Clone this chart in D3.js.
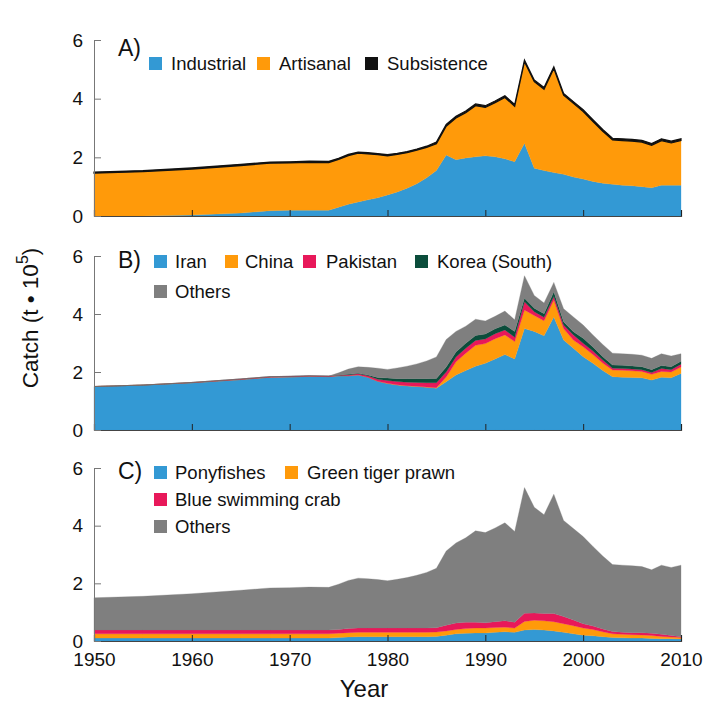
<!DOCTYPE html>
<html>
<head>
<meta charset="utf-8">
<script src="https://cdn.jsdelivr.net/npm/d3@7"></script>
<style>
  body { margin: 0; background: #fff; }
  text { font-family: "Liberation Sans", Arial, sans-serif; }
</style>
</head>
<body>
<svg id="chart"></svg>
<script>
// years (annual from 1975 on)
const years = [1950, 1955, 1960, 1965, 1968, 1970, 1972, 1974,
  1975, 1976, 1977, 1978, 1979, 1980, 1981, 1982, 1983, 1984, 1985, 1986, 1987, 1988, 1989,
  1990, 1991, 1992, 1993, 1994, 1995, 1996, 1997, 1998, 1999, 2000, 2001, 2002, 2003, 2004,
  2005, 2006, 2007, 2008, 2009, 2010];

// panel A: sector (t * 10^5)
const industrial = [0, 0, 0.03, 0.10, 0.18, 0.20, 0.20, 0.20,
  0.30, 0.40, 0.48, 0.55, 0.62, 0.72, 0.82, 0.95, 1.10, 1.30, 1.55, 2.08, 1.92, 1.98, 2.02,
  2.05, 2.02, 1.95, 1.85, 2.48, 1.63, 1.55, 1.48, 1.42, 1.33, 1.26, 1.18, 1.12, 1.08, 1.05,
  1.03, 1.00, 0.96, 1.05, 1.05, 1.05];
const artisanal = [1.46, 1.51, 1.57, 1.62, 1.62, 1.61, 1.63, 1.62,
  1.63, 1.66, 1.66, 1.57, 1.47, 1.33, 1.28, 1.21, 1.14, 1.04, 0.91, 0.98, 1.42, 1.54, 1.74,
  1.65, 1.84, 2.09, 1.89, 2.78, 2.95, 2.77, 3.55, 2.70, 2.51, 2.30, 2.04, 1.77, 1.51, 1.52,
  1.52, 1.52, 1.45, 1.52, 1.44, 1.52];
const subsistence = [0.04, 0.04, 0.04, 0.04, 0.04, 0.04, 0.04, 0.04,
  0.04, 0.04, 0.04, 0.04, 0.04, 0.04, 0.04, 0.04, 0.04, 0.04, 0.06, 0.06, 0.06, 0.06, 0.06,
  0.06, 0.06, 0.06, 0.06, 0.06, 0.06, 0.06, 0.06, 0.06, 0.06, 0.06, 0.06, 0.06, 0.06, 0.06,
  0.06, 0.06, 0.06, 0.06, 0.06, 0.06];

// panel B: fishing country
const iran = [1.50, 1.55, 1.63, 1.74, 1.82, 1.83, 1.85, 1.84,
  1.87, 1.87, 1.90, 1.82, 1.68, 1.60, 1.55, 1.52, 1.50, 1.47, 1.44, 1.66, 1.90, 2.05, 2.20,
  2.30, 2.45, 2.60, 2.45, 3.50, 3.40, 3.25, 3.90, 3.10, 2.82, 2.53, 2.30, 2.05, 1.84, 1.82,
  1.81, 1.80, 1.72, 1.82, 1.80, 1.95];
const china = [0, 0, 0, 0, 0, 0, 0, 0,
  0, 0, 0, 0, 0, 0.01, 0.01, 0.01, 0.01, 0.01, 0.02, 0.17, 0.45, 0.60, 0.72,
  0.68, 0.70, 0.68, 0.60, 0.64, 0.55, 0.52, 0.58, 0.40, 0.28, 0.34, 0.30, 0.26, 0.23, 0.24,
  0.23, 0.22, 0.20, 0.20, 0.20, 0.22];
const pakistan = [0, 0, 0.01, 0.02, 0.02, 0.02, 0.02, 0.02,
  0.02, 0.03, 0.04, 0.05, 0.07, 0.10, 0.11, 0.12, 0.13, 0.15, 0.17, 0.17, 0.17, 0.17, 0.17,
  0.16, 0.17, 0.17, 0.15, 0.28, 0.13, 0.12, 0.12, 0.12, 0.18, 0.12, 0.12, 0.10, 0.06, 0.06,
  0.06, 0.06, 0.06, 0.10, 0.08, 0.10];
const korea = [0, 0, 0, 0, 0, 0, 0, 0,
  0, 0.02, 0.02, 0.03, 0.06, 0.08, 0.10, 0.12, 0.13, 0.14, 0.15, 0.17, 0.17, 0.17, 0.17,
  0.17, 0.17, 0.17, 0.20, 0.12, 0.12, 0.12, 0.17, 0.11, 0.11, 0.17, 0.14, 0.12, 0.11, 0.11,
  0.11, 0.10, 0.10, 0.10, 0.10, 0.10];
const othersB = [0, 0, 0, 0, 0, 0, 0, 0,
  0.08, 0.18, 0.22, 0.26, 0.32, 0.30, 0.37, 0.43, 0.51, 0.61, 0.74, 0.95, 0.71, 0.59, 0.56,
  0.45, 0.43, 0.48, 0.40, 0.78, 0.44, 0.37, 0.32, 0.45, 0.51, 0.46, 0.42, 0.42, 0.41, 0.40,
  0.40, 0.40, 0.39, 0.41, 0.37, 0.26];

// panel C: taxon
const ponyfishes = [0.10, 0.10, 0.10, 0.10, 0.10, 0.10, 0.10, 0.10,
  0.12, 0.14, 0.15, 0.15, 0.15, 0.15, 0.15, 0.15, 0.15, 0.15, 0.16, 0.20, 0.25, 0.27, 0.28,
  0.28, 0.30, 0.32, 0.30, 0.38, 0.40, 0.38, 0.35, 0.30, 0.25, 0.20, 0.18, 0.15, 0.12, 0.11,
  0.10, 0.10, 0.09, 0.08, 0.08, 0.07];
const tigerPrawn = [0.15, 0.15, 0.15, 0.15, 0.15, 0.15, 0.15, 0.15,
  0.15, 0.15, 0.15, 0.15, 0.15, 0.15, 0.15, 0.15, 0.15, 0.15, 0.15, 0.15, 0.15, 0.16, 0.17,
  0.17, 0.17, 0.16, 0.15, 0.30, 0.32, 0.32, 0.32, 0.30, 0.28, 0.25, 0.22, 0.17, 0.13, 0.12,
  0.12, 0.11, 0.10, 0.08, 0.06, 0.05];
const swimmingCrab = [0.13, 0.13, 0.13, 0.13, 0.13, 0.13, 0.13, 0.13,
  0.13, 0.14, 0.15, 0.15, 0.15, 0.15, 0.15, 0.15, 0.15, 0.15, 0.15, 0.20, 0.22, 0.22, 0.20,
  0.18, 0.20, 0.22, 0.20, 0.28, 0.25, 0.25, 0.28, 0.25, 0.20, 0.15, 0.12, 0.10, 0.08, 0.07,
  0.07, 0.08, 0.08, 0.07, 0.05, 0.03];
const othersC = [1.12, 1.17, 1.26, 1.38, 1.46, 1.47, 1.49, 1.48,
  1.57, 1.67, 1.73, 1.71, 1.68, 1.64, 1.69, 1.75, 1.83, 1.93, 2.06, 2.57, 2.78, 2.93, 3.17,
  3.13, 3.25, 3.40, 3.15, 4.36, 3.67, 3.43, 4.14, 3.33, 3.17, 3.02, 2.76, 2.53, 2.32, 2.33,
  2.32, 2.29, 2.20, 2.40, 2.36, 2.48];

const yTicks = [0, 2, 4, 6];
const xTicks = [1950, 1960, 1970, 1980, 1990, 2000, 2010];

const width = 706, height = 701;
const marginLeft = 94, marginRight = 25;

const svg = d3.select("#chart")
    .attr("width", width)
    .attr("height", height)
    .attr("viewBox", [0, 0, width, height]);

const x = d3.scaleLinear([1950, 2010], [marginLeft, width - marginRight]);

const panels = [
  {label: "A)", bottom: 216, top: 40,
   names: ["Industrial", "Artisanal", "Subsistence"],
   series: [industrial, artisanal, subsistence],
   colors: ["#3399d4", "#ff9a0a", "#111111"],
   // legend slots: [square x, text x, baseline]
   slots: [[149, 171, 70], [257, 279, 70], [365, 387, 70]],
   labelY: 56},
  {label: "B)", bottom: 430, top: 256,
   names: ["Iran", "China", "Pakistan", "Korea (South)", "Others"],
   series: [iran, china, pakistan, korea, othersB],
   colors: ["#3399d4", "#ff9a0a", "#e8185a", "#0b4d3b", "#7f7f7f"],
   slots: [[154, 175, 268], [225, 245, 268], [303, 326, 268], [415, 437, 268], [154, 175, 298]],
   labelY: 268},
  {label: "C)", bottom: 641, top: 468,
   names: ["Ponyfishes", "Green tiger prawn", "Blue swimming crab", "Others"],
   series: [ponyfishes, tigerPrawn, swimmingCrab, othersC],
   colors: ["#3399d4", "#ff9a0a", "#e8185a", "#7f7f7f"],
   slots: [[154, 175, 479], [285, 307, 479], [154, 175, 506], [154, 175, 533]],
   labelY: 479}
];

panels.forEach((p, pi) => {
  const y = d3.scaleLinear([0, 6], [p.bottom, p.top]);
  const rows = years.map((yr, i) => {
    const r = {year: yr};
    p.names.forEach((n, k) => r[n] = p.series[k][i]);
    return r;
  });
  const stacked = d3.stack().keys(p.names)(rows);
  const area = d3.area()
      .x(d => x(d.data.year))
      .y0(d => y(d[0]))
      .y1(d => y(d[1]));

  const g = svg.append("g");
  g.selectAll("path")
    .data(stacked)
    .join("path")
      .attr("fill", (d, k) => p.colors[k])
      .attr("stroke", (d, k) => p.colors[k])
      .attr("stroke-width", (d, k) => p.names[k] === "Subsistence" ? 1.2 : 0.3)
      .attr("d", area);

  // x axis along the bottom of each panel, ticks pointing up
  svg.append("g")
      .attr("transform", `translate(0,${p.bottom})`)
      .call(d3.axisBottom(x).tickValues(xTicks).tickSize(-6).tickPadding(12)
        .tickFormat(pi === 2 ? d3.format("d") : ""))
      .call(g => g.select(".domain").attr("stroke", "#444").attr("stroke-width", 1.2))
      .call(g => g.selectAll(".tick line").attr("stroke", "#222"))
      .call(g => g.selectAll(".tick text")
          .attr("font-size", 19).attr("fill", "#111")
          .style("font-family", "'Liberation Sans', Arial, sans-serif"));

  // y axis, ticks pointing right
  svg.append("g")
      .attr("transform", `translate(${marginLeft},0)`)
      .call(d3.axisLeft(y).tickValues(yTicks).tickFormat(d3.format("d"))
        .tickSizeInner(-7).tickSizeOuter(0).tickPadding(11))
      .call(g => g.select(".domain").attr("stroke", "#777"))
      .call(g => g.selectAll(".tick line").attr("stroke", "#777"))
      .call(g => g.selectAll(".tick text")
          .attr("font-size", 19).attr("fill", "#111")
          .style("font-family", "'Liberation Sans', Arial, sans-serif"));

  svg.append("text")
      .attr("x", 118)
      .attr("y", p.labelY)
      .attr("font-size", 23)
      .attr("fill", "#111")
      .text(p.label);

  const leg = svg.append("g");
  p.names.forEach((n, k) => {
    const [sx, tx, base] = p.slots[k];
    leg.append("rect")
        .attr("x", sx).attr("y", base - 13)
        .attr("width", 13).attr("height", 13)
        .attr("fill", p.colors[k]);
    leg.append("text")
        .attr("x", tx).attr("y", base)
        .attr("font-size", 18.5)
        .attr("fill", "#111")
        .text(n);
  });
});

// axis titles
const yl = svg.append("text")
    .attr("transform", "translate(38,318) rotate(-90)")
    .attr("text-anchor", "middle")
    .attr("font-size", 22.5)
    .attr("fill", "#111");
yl.append("tspan").text("Catch (t \u2022 10");
yl.append("tspan").attr("font-size", 16).attr("dy", -10).text("5");
yl.append("tspan").attr("dy", 10).text(")");

svg.append("text")
    .attr("x", 364)
    .attr("y", 697)
    .attr("text-anchor", "middle")
    .attr("font-size", 24)
    .attr("fill", "#111")
    .text("Year");
</script>
</body>
</html>
